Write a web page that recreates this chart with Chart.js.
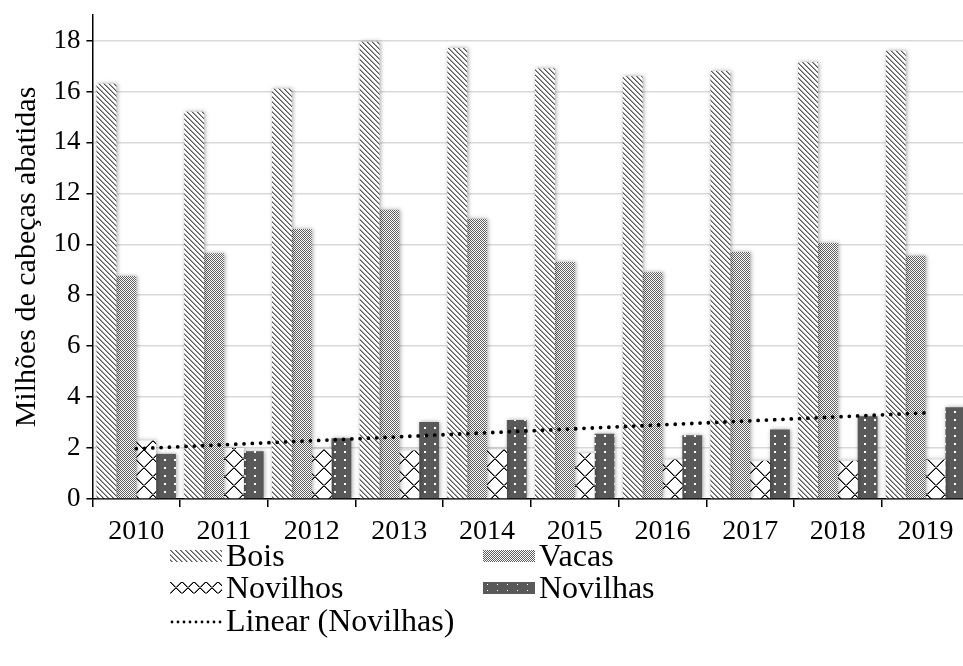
<!DOCTYPE html>
<html>
<head>
<meta charset="utf-8">
<script src="https://cdn.jsdelivr.net/npm/chart.js@4.4.1/dist/chart.umd.min.js"></script>
<style>
  html, body { margin: 0; padding: 0; background: #fff; overflow: hidden; }
  #wrap { position: relative; width: 963px; height: 666px; overflow: hidden; }
  #chart { position: absolute; left: 0; top: 0; }
  .leg { position: absolute; display: flex; align-items: center; height: 33px; line-height: 33px;
         font-family: "Liberation Serif", "Times New Roman", serif; font-size: 32px; color: #000; white-space: nowrap; }
  .leg canvas { margin-right: 4px; }
</style>
</head>
<body>
<div id="wrap">
  <canvas id="chart" width="970" height="548"></canvas>
  <div class="leg" style="left:170px;top:539px"><canvas id="swBois" width="52" height="12"></canvas>Bois</div>
  <div class="leg" style="left:483px;top:539px"><canvas id="swVacas" width="52" height="12"></canvas>Vacas</div>
  <div class="leg" style="left:170px;top:571px"><canvas id="swNovilhos" width="52" height="12"></canvas>Novilhos</div>
  <div class="leg" style="left:483px;top:571px"><canvas id="swNovilhas" width="52" height="12"></canvas>Novilhas</div>
  <div class="leg" style="left:170px;top:604px"><canvas id="swLinear" width="52" height="12"></canvas>Linear (Novilhas)</div>
</div>
<script>
const years = ['2010', '2011', '2012', '2013', '2014', '2015', '2016', '2017', '2018', '2019'];
const bois = [16.3, 15.2, 16.1, 17.95, 17.7, 16.9, 16.6, 16.8, 17.15, 17.6];
const vacas = [8.75, 9.65, 10.6, 11.35, 11.0, 9.3, 8.9, 9.7, 10.05, 9.55];
const novilhos = [2.3, 2.0, 1.95, 1.9, 1.95, 1.8, 1.55, 1.5, 1.5, 1.55];
const novilhas = [1.77, 1.87, 2.38, 3.02, 3.1, 2.56, 2.5, 2.73, 3.25, 3.6];
const yTicks = [0, 2, 4, 6, 8, 10, 12, 14, 16, 18];

const serif = '"Liberation Serif", "Times New Roman", serif';

// linear trend of Novilhas (what "Linear (Novilhas)" is)
const n = novilhas.length;
const mx = (n - 1) / 2;
const my = novilhas.reduce((a, b) => a + b, 0) / n;
let sxy = 0, sxx = 0;
novilhas.forEach((v, i) => { sxy += (i - mx) * (v - my); sxx += (i - mx) * (i - mx); });
const slope = sxy / sxx;
const icpt = my - slope * mx;
const trend = novilhas.map((v, i) => icpt + slope * i);

const mainCtx = document.getElementById('chart').getContext('2d');

// pattern tiles
function drawBois(g) {
  g.fillStyle = '#fff'; g.fillRect(0, 0, 5, 5);
  for (let i = 0; i < 5; i++) {
    g.fillStyle = '#555'; g.fillRect(i, i, 1, 1);
    g.fillStyle = '#a0a0a0'; g.fillRect((i + 1) % 5, i, 1, 1);
  }
}
function drawVacas(g) {
  g.fillStyle = '#fff'; g.fillRect(0, 0, 2, 2);
  g.fillStyle = '#5e5e5e'; g.fillRect(0, 0, 1, 1); g.fillRect(1, 1, 1, 1);
}
function drawCross(size) {
  return (g) => {
    g.fillStyle = '#fff'; g.fillRect(0, 0, size, size);
    for (let i = 0; i < size; i++) {
      g.fillStyle = '#000';
      g.fillRect(i, i, 1, 1); g.fillRect(size - 1 - i, i, 1, 1);
      g.fillStyle = '#777';
      g.fillRect((i + 1) % size, i, 1, 1); g.fillRect((2 * size - 2 - i) % size, i, 1, 1);
    }
  };
}
function drawDots(w, h, dx, dy, d) {
  return (g) => {
    g.fillStyle = '#595959'; g.fillRect(0, 0, w, h);
    g.fillStyle = '#fff'; g.fillRect(dx, dy, d, d);
  };
}

function tile(w, h, draw) {
  const c = document.createElement('canvas');
  c.width = w; c.height = h;
  draw(c.getContext('2d'));
  return c;
}

const patBois = mainCtx.createPattern(tile(5, 5, drawBois), 'repeat');
const patVacas = mainCtx.createPattern(tile(2, 2, drawVacas), 'repeat');
const patNovilhos = mainCtx.createPattern(tile(18, 18, drawCross(18)), 'repeat');
const patNovilhas = mainCtx.createPattern(tile(10, 8, drawDots(10, 8, 4, 3, 2)), 'repeat');

function fillSwatch(id, t) {
  const cv = document.getElementById(id);
  const s = cv.getContext('2d');
  s.fillStyle = s.createPattern(t, 'repeat');
  s.fillRect(0, 0, cv.width, cv.height);
}
fillSwatch('swBois', tile(5, 5, drawBois));
fillSwatch('swVacas', tile(2, 2, drawVacas));
fillSwatch('swNovilhos', tile(12, 12, drawCross(12)));
fillSwatch('swNovilhas', tile(10, 6, drawDots(10, 6, 4, 2, 1)));
(function () {
  const s = document.getElementById('swLinear').getContext('2d');
  s.fillStyle = '#000';
  for (let x = 2; x < 52; x += 6) { s.beginPath(); s.arc(x, 7, 1.4, 0, Math.PI * 2); s.fill(); }
})();

const barShadow = {
  id: 'barShadow',
  beforeDatasetDraw(chart, args) {
    if (args.meta.type !== 'bar') return;
    const ctx = chart.ctx;
    ctx.save();
    ctx.shadowColor = 'rgba(0,0,0,0.35)';
    ctx.shadowBlur = 4;
    ctx.shadowOffsetX = 1;
    ctx.shadowOffsetY = 0;
  },
  afterDatasetDraw(chart, args) {
    if (args.meta.type !== 'bar') return;
    chart.ctx.restore();
  }
};

const barOpts = { barPercentage: 1, categoryPercentage: 0.905, borderWidth: 0, order: 1 };

new Chart(mainCtx, {
  type: 'bar',
  data: {
    labels: years,
    datasets: [
      Object.assign({ label: 'Bois', data: bois, backgroundColor: patBois }, barOpts),
      Object.assign({ label: 'Vacas', data: vacas, backgroundColor: patVacas }, barOpts),
      Object.assign({ label: 'Novilhos', data: novilhos, backgroundColor: patNovilhos }, barOpts),
      Object.assign({ label: 'Novilhas', data: novilhas, backgroundColor: patNovilhas }, barOpts),
      {
        type: 'line', label: 'Linear (Novilhas)', data: trend,
        borderColor: '#000', borderWidth: 3.8, borderDash: [0, 8.3], borderCapStyle: 'round',
        pointRadius: 0, fill: false, tension: 0, order: 0
      }
    ]
  },
  options: {
    responsive: false,
    animation: false,
    layout: { padding: { top: 15, right: 0.6, left: 0, bottom: 0 } },
    plugins: { legend: { display: false }, tooltip: { enabled: false } },
    scales: {
      x: {
        grid: { display: true, drawOnChartArea: false, drawTicks: true, tickLength: 8, tickColor: '#000', lineWidth: 1.5 },
        border: { color: '#000', width: 1.5 },
        ticks: { color: '#000', font: { family: serif, size: 28 }, padding: 8, maxRotation: 0 },
        afterFit(s) { s.height = 548 - 499; s.paddingLeft = 0; s.paddingRight = 0; }
      },
      y: {
        min: 0, max: 19,
        ticks: { stepSize: 2, color: '#000', font: { family: serif, size: 27 }, padding: 6 },
        afterBuildTicks(s) { s.ticks = yTicks.map(v => ({ value: v })); },
        grid: { color: '#d9d9d9', lineWidth: 1.5, tickColor: '#000', tickLength: 6, tickWidth: 1.5 },
        border: { color: '#000', width: 1.5 },
        title: { display: true, text: 'Milhões de cabeças abatidas', color: '#000', font: { family: serif, size: 30 }, padding: { top: 9, bottom: 0 } },
        afterFit(s) { s.width = 92.4; s.paddingTop = 0; s.paddingBottom = 0; }
      }
    }
  },
  plugins: [barShadow]
});
</script>
</body>
</html>
